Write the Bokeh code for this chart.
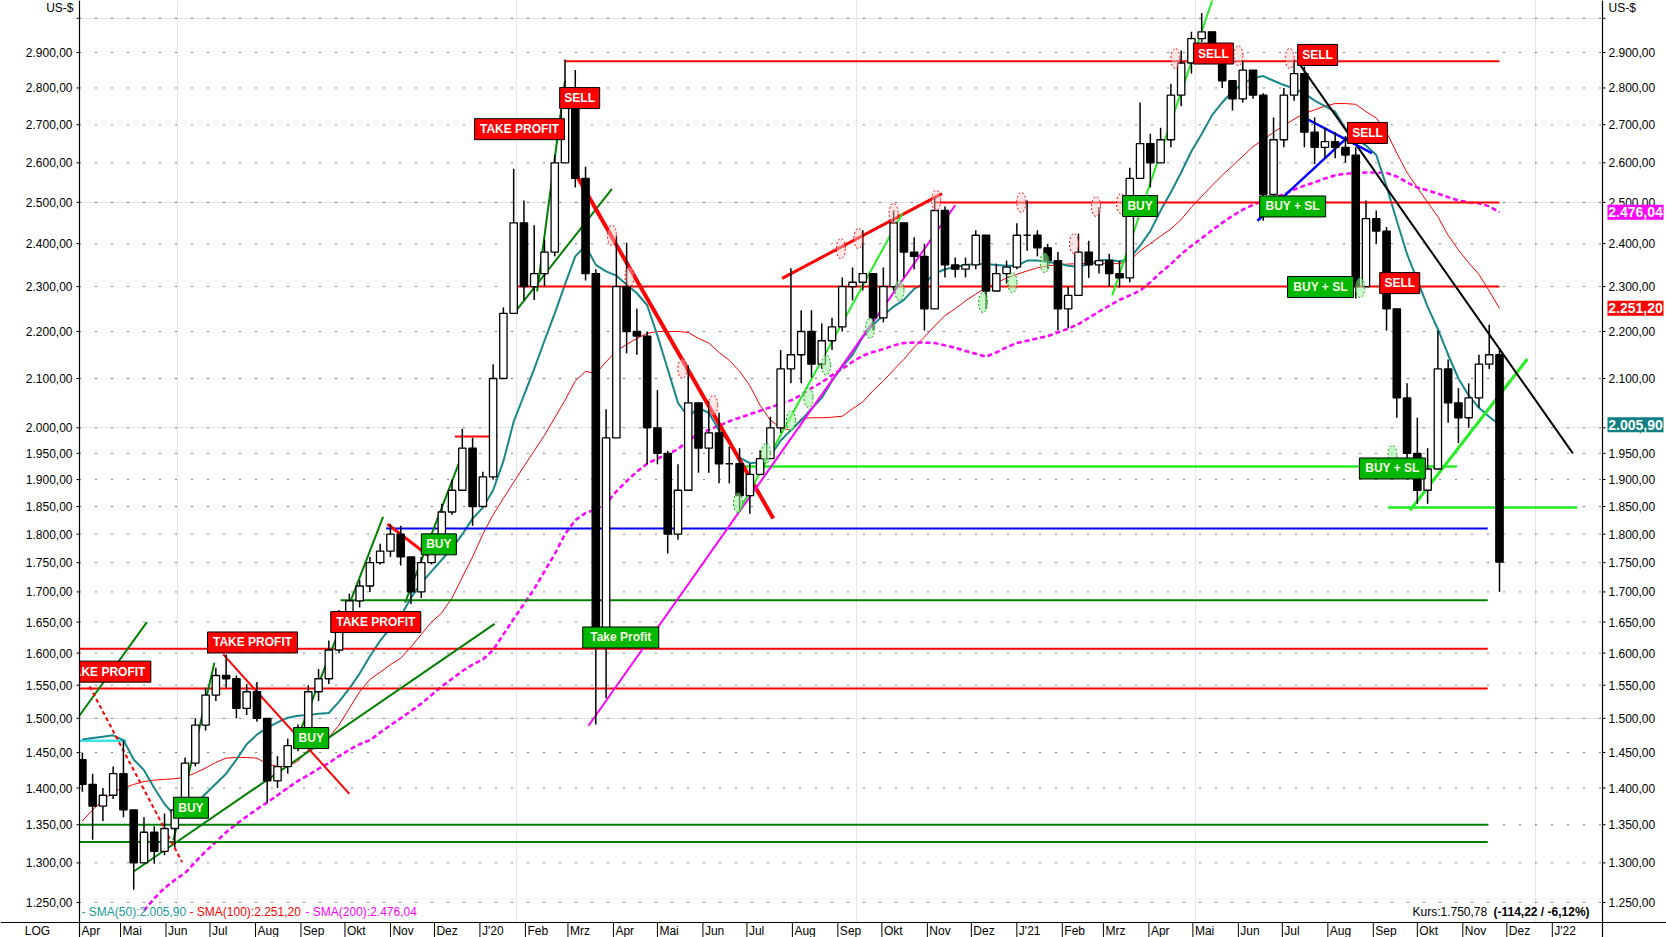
import math
import pandas as pd
from bokeh.plotting import figure
from bokeh.models import Range1d
from bokeh.core.properties import value
from bokeh.embed import file_html
from bokeh.resources import INLINE

# ---------------- data ----------------
first_week = "2019-04-05"          # weekly bars, Fridays
first_open = 1440
high = [1450,1420,1400,1430,1467,1370,1360,1348,1365,1380,
        1443,1500,1546,1577,1598,1565,1552,1555,1500,1445,
        1470,1491,1550,1575,1620,1670,1697,1720,1760,1783,
        1818,1815,1760,1760,1800,1855,1900,1998,1980,1915,
        2130,2253,2585,2505,2444,2410,2620,2880,2850,2590,
        2340,2037,2419,2402,2250,2200,2076,1955,1929,2127,
        2014,2053,2030,1963,1960,1930,1956,2022,2160,2342,
        2247,2247,2218,2230,2321,2344,2432,2330,2344,2480,
        2415,2415,2400,2512,2490,2367,2367,2432,2420,2353,
        2360,2449,2505,2432,2400,2380,2300,2424,2407,2488,
        2376,2360,2587,2760,2676,2692,2811,2906,2960,3016,
        2960,2910,2811,2877,2850,2785,2719,2800,2877,2860,
        2719,2692,2680,2670,2640,2505,2480,2440,2250,2090,
        2020,1960,2202,2140,2080,2090,2150,2215,2160]
low = [1395,1330,1355,1385,1360,1266,1310,1299,1310,1320,
       1365,1430,1482,1526,1546,1500,1505,1495,1380,1400,
       1420,1452,1465,1526,1552,1600,1650,1674,1700,1747,
       1760,1745,1680,1690,1747,1790,1835,1880,1815,1850,
       1900,2100,2240,2269,2270,2300,2370,2600,2537,2314,
       1491,1530,1980,2153,2150,1929,1929,1766,1790,1880,
       1913,1913,1893,1893,1843,1837,1908,1942,1990,2090,
       2090,2102,2120,2160,2200,2269,2291,2202,2220,2291,
       2321,2340,2202,2275,2321,2321,2321,2340,2250,2290,
       2307,2340,2383,2370,2340,2202,2207,2280,2320,2330,
       2300,2298,2310,2560,2537,2600,2640,2750,2840,2930,
       2890,2800,2738,2760,2770,2455,2510,2640,2765,2640,
       2597,2612,2612,2600,2273,2300,2400,2202,2020,1900,
       1855,1855,1920,2010,1970,2000,2040,2120,1700]
close = [1405,1375,1390,1420,1370,1300,1340,1315,1345,1370,
         1435,1490,1535,1565,1560,1515,1540,1500,1410,1430,
         1460,1470,1540,1560,1605,1660,1685,1710,1750,1770,
         1800,1760,1700,1750,1790,1840,1880,1960,1850,1905,
         2100,2240,2450,2300,2330,2380,2600,2790,2560,2330,
         1620,1980,2300,2200,2190,2000,1950,1800,1880,2050,
         1960,1990,1930,1930,1870,1910,1940,2000,2120,2150,
         2200,2130,2180,2210,2300,2310,2330,2230,2300,2450,
         2380,2370,2250,2480,2350,2340,2350,2420,2290,2330,
         2345,2420,2420,2390,2360,2250,2280,2380,2350,2360,
         2330,2320,2560,2650,2600,2660,2780,2870,2940,2960,
         2910,2820,2770,2850,2780,2520,2660,2780,2840,2680,
         2640,2655,2640,2620,2300,2460,2430,2250,2060,1950,
         1880,1920,2120,2050,2020,2060,2130,2150,1750.78]
sma50 = [1469,1471,1473,1475,1468,1440,1425,1400,1378,1362,
         1368,1378,1392,1406,1420,1440,1462,1476,1486,1494,
         1501,1504,1505,1507,1508,1525,1545,1568,1595,1620,
         1640,1660,1690,1715,1735,1755,1775,1800,1828,1848,
         1880,1935,2012,2065,2120,2180,2240,2305,2370,2395,
         2350,2335,2325,2305,2285,2258,2191,2120,2050,2022,
         2040,2030,1995,1972,1942,1931,1933,1945,1975,1995,
         2015,2038,2060,2095,2125,2150,2188,2215,2235,2255,
         2270,2295,2308,2330,2340,2345,2350,2352,2352,2350,
         2348,2348,2360,2360,2357,2354,2348,2345,2352,2360,
         2362,2358,2365,2395,2430,2480,2525,2575,2630,2675,
         2725,2760,2790,2812,2828,2833,2820,2808,2798,2785,
         2765,2750,2735,2690,2660,2645,2620,2540,2455,2375,
         2315,2255,2205,2150,2100,2065,2040,2022,2005.90]
sma100 = [1355,1370,1383,1395,1400,1405,1409,1411,1412,1413,
          1415,1421,1428,1436,1442,1443,1443,1442,1434,1430,
          1430,1438,1454,1463,1472,1490,1515,1540,1559,1570,
          1582,1592,1610,1630,1650,1665,1690,1725,1760,1800,
          1835,1865,1895,1925,1955,1985,2020,2055,2095,2115,
          2110,2135,2158,2172,2185,2196,2200,2200,2200,2198,
          2185,2175,2155,2138,2115,2085,2045,2015,2000,1995,
          2018,2020,2020,2021,2023,2038,2052,2075,2095,2118,
          2140,2166,2188,2212,2235,2250,2268,2283,2298,2308,
          2320,2328,2336,2343,2348,2350,2352,2353,2353,2353,
          2353,2353,2360,2383,2400,2418,2435,2458,2488,2515,
          2542,2568,2592,2617,2642,2660,2680,2697,2715,2730,
          2740,2750,2757,2757,2755,2735,2718,2680,2625,2575,
          2537,2500,2465,2420,2385,2355,2328,2290,2251.20]
sma200_first_week = 6
sma200 = [1240,1255,1268,1278,1287,1301,1315,1327,1340,1351,
          1361,1371,1380,1390,1400,1410,1418,1427,1435,1445,
          1454,1462,1468,1479,1490,1500,1511,1522,1535,1548,
          1560,1572,1582,1590,1605,1630,1655,1680,1705,1735,
          1765,1800,1825,1838,1845,1855,1878,1897,1915,1930,
          1940,1948,1958,1975,1988,1996,2004,2013,2020,2027,
          2034,2041,2048,2055,2066,2080,2092,2107,2120,2135,
          2148,2156,2162,2170,2175,2176,2176,2175,2170,2165,
          2158,2152,2146,2155,2166,2175,2180,2185,2190,2198,
          2206,2216,2230,2244,2257,2270,2280,2291,2310,2332,
          2352,2375,2395,2413,2432,2450,2467,2482,2494,2505,
          2512,2520,2532,2542,2550,2560,2568,2572,2574,2575,
          2575,2574,2565,2550,2537,2530,2522,2513,2505,2500,
          2498,2490,2476.04]
assert len(high) == len(low) == len(close) == len(sma50) == len(sma100) == 139
assert len(sma200) == 139 - sma200_first_week

# horizontal support / resistance levels
red_lvl_price = [2875, 2500, 2300, 1983, 1607, 1545]
red_lvl_from = ["2020-02-28", "2020-11-06", "2020-01-23", "2019-12-15", "2019-03-20", "2019-03-20"]
red_lvl_to = ["2021-11-26", "2021-11-26", "2021-11-26", "2020-01-13", "2021-11-18", "2021-11-18"]
dkg_lvl_price = [1686, 1350, 1327]
dkg_lvl_from = ["2019-09-28", "2019-03-20", "2019-03-20"]
dkg_lvl_to = ["2021-11-18", "2021-11-18", "2021-11-18"]
blue_lvl_price = [1810]
blue_lvl_from = ["2019-10-29"]
blue_lvl_to = ["2021-11-18"]
lime_lvl_price = [1925, 1848]
lime_lvl_from = ["2020-06-28", "2021-09-11"]
lime_lvl_to = ["2021-10-28", "2022-01-18"]
cyan_lvl_price = [1467]
cyan_lvl_from = ["2019-03-20"]
cyan_lvl_to = ["2019-05-05"]

# trend lines: (start date, start price, end date, end price)
dkg_trends = [("2019-03-30", 1492, "2019-05-19", 1650),
              ("2019-05-10", 1289, "2020-01-11", 1647),
              ("2019-06-06", 1329, "2019-07-04", 1585),
              ("2019-08-27", 1456, "2019-10-27", 1831),
              ("2019-11-11", 1682, "2019-12-20", 1948),
              ("2020-01-26", 2247, "2020-03-31", 2534),
              ("2020-02-09", 2289, "2020-02-28", 2820)]
red_trend_main = [("2020-03-07", 2567, "2020-07-19", 1828)]
red_trends = [("2019-10-30", 1818, "2019-11-27", 1762),
              ("2020-07-25", 2319, "2020-11-11", 2522)]
red_trend_thin = [("2019-07-10", 1598, "2019-10-04", 1392)]
red_trend_dashed = [("2019-04-10", 1548, "2019-06-12", 1301)]
magenta_trends = [("2020-03-15", 1489, "2020-11-20", 2493)]
lime_trends = [("2020-06-25", 1839, "2020-10-15", 2473),
               ("2021-03-07", 2280, "2021-05-19", 3117)]
lime_trend_last = [("2021-09-26", 1843, "2021-12-15", 2141)]
black_trends = [("2021-07-12", 2871, "2022-01-15", 1950)]
blue_trends = [("2021-07-15", 2721, "2021-08-31", 2625),
               ("2021-06-14", 2455, "2021-08-14", 2665)]

# signal boxes
red_box_text = ["TAKE PROFIT", "TAKE PROFIT", "TAKE PROFIT", "TAKE PROFIT",
                "SELL", "SELL", "SELL", "SELL", "SELL"]
red_box_date = ["2019-04-21", "2019-07-30", "2019-10-22", "2020-01-28",
                "2020-03-09", "2021-05-15", "2021-07-25", "2021-08-28", "2021-09-19"]
red_box_price = [1571, 1617, 1650, 2688, 2772, 2897, 2893, 2678, 2308]
green_box_text = ["BUY", "BUY", "BUY", "Take Profit", "BUY", "BUY + SL", "BUY + SL", "BUY + SL"]
green_box_date = ["2019-06-18", "2019-09-08", "2019-12-04", "2020-04-06",
                  "2021-03-26", "2021-07-08", "2021-07-27", "2021-09-14"]
green_box_price = [1373, 1471, 1782, 1625, 2491, 2490, 2299, 1921]

# marked turning points
red_mark_date = ["2020-03-31", "2020-04-12", "2020-05-18", "2020-06-08", "2020-09-03",
                 "2020-09-15", "2020-10-09", "2020-11-07", "2021-01-04", "2021-02-09",
                 "2021-02-24", "2021-03-13", "2021-04-19", "2021-06-01", "2021-07-06"]
red_mark_price = [2420, 2323, 2121, 2045, 2388, 2412, 2473, 2505, 2500, 2400,
                  2490, 2497, 2883, 2891, 2883]
green_mark_date = ["2020-06-25", "2020-07-14", "2020-07-31", "2020-08-12", "2020-08-24",
                   "2020-09-23", "2020-10-13", "2020-12-09", "2020-12-29", "2021-01-20",
                   "2021-08-23", "2021-09-14"]
green_mark_price = [1857, 1950, 2014, 2061, 2128, 2207, 2291, 2264, 2309, 2355, 2298, 1946]

y_ticks = [1250, 1300, 1350, 1400, 1450, 1500, 1550, 1600, 1650, 1700, 1750, 1800,
           1850, 1900, 1950, 2000, 2100, 2200, 2300, 2400, 2500, 2600, 2700, 2800, 2900, 3000]
month_names = {1: "Jan", 2: "Feb", 3: "Mrz", 4: "Apr", 5: "Mai", 6: "Jun", 7: "Jul",
               8: "Aug", 9: "Sep", 10: "Okt", 11: "Nov", 12: "Dez"}
first_month, last_month = "2019-04-01", "2022-01-01"
last_sma50, last_sma100, last_sma200 = 2005.90, 2251.20, 2476.04
last_price, last_change, last_pct = 1750.78, -114.22, -6.12

# ---------------- layout helpers (page pixels -> data) ----------------
DAY = 86400000.0
W, H = 1666, 937
PXD = 1.467                 # pixels per calendar day
X_ANCHOR_PX = 76            # page x of 2019-04-01
Y_ANCHOR_PX, Y_ANCHOR_P, PX_PER_LN = 52, 2900.0, 1010.0
FL, FR, FB = 79, 1602, 922  # frame edges (left, right, bottom) in page pixels


def ms(s):
    return pd.Timestamp(s).value / 1e6


X_ANCHOR = ms("2019-04-01")


def xp(px):
    return X_ANCHOR + (px - X_ANCHOR_PX) / PXD * DAY


def yp(py):
    return Y_ANCHOR_P * math.exp((Y_ANCHOR_PX - py) / PX_PER_LN)


def de(v, nd=2):
    s = f"{v:,.{nd}f}"
    return s.replace(",", "X").replace(".", ",").replace("X", ".")


FONT = value("Liberation Sans")

p = figure(width=W, height=H, output_backend="svg", toolbar_location=None,
           x_axis_location=None, y_axis_location=None, y_axis_type="log",
           x_range=Range1d(xp(0), xp(W)), y_range=Range1d(yp(H), yp(0)),
           min_border_left=0, min_border_right=0, min_border_top=0, min_border_bottom=0,
           title=None)
p.outline_line_color = None
p.background_fill_color = "white"
p.border_fill_color = "white"

# dotted grid rows
n = len(y_ticks)
p.segment([xp(FL)] * n, y_ticks, [xp(FR)] * n, y_ticks, color="black",
          line_width=1, line_dash="1 15")

# moving averages
wk = pd.date_range(first_week, periods=len(close), freq="7D")
wx = [t.value / 1e6 for t in wk]
p.segment([ms(d) for d in cyan_lvl_from], cyan_lvl_price, [ms(d) for d in cyan_lvl_to],
          cyan_lvl_price, color="#3fe3ea", line_width=2.5)
p.line(wx, sma100, color="#ff0000", line_width=1)
p.line(wx[sma200_first_week:], sma200, color="#ff00ff", line_width=2.5, line_dash="5 3")
p.line(wx, sma50, color="#17878c", line_width=2)


def hl(frm, to, lv, color, w):
    p.segment([ms(d) for d in frm], lv, [ms(d) for d in to], lv, color=color, line_width=w)


def tl(segs, color, w, dash="solid"):
    p.segment([ms(s[0]) for s in segs], [s[1] for s in segs],
              [ms(s[2]) for s in segs], [s[3] for s in segs],
              color=color, line_width=w, line_dash=dash)


hl(red_lvl_from, red_lvl_to, red_lvl_price, "#ff0000", 2)
hl(dkg_lvl_from, dkg_lvl_to, dkg_lvl_price, "#008000", 2)
hl(blue_lvl_from, blue_lvl_to, blue_lvl_price, "#0000ff", 2)
hl(lime_lvl_from, lime_lvl_to, lime_lvl_price, "#22ee22", 2.5)

tl(dkg_trends, "#008000", 2)
tl(red_trend_thin, "#ff0000", 2)
tl(red_trends, "#ff0000", 3)
tl(red_trend_main, "#ff0000", 4)
tl(red_trend_dashed, "#ff0000", 2, "4 3")
tl(magenta_trends, "#ff00ff", 2)
tl(lime_trends, "#22ee22", 2)
tl(lime_trend_last, "#22ee22", 3)
tl(black_trends, "#000000", 2)
tl(blue_trends, "#0000ff", 2.5)

# weekly price bars
opens = [first_open] + close[:-1]
hi = [max(h, o, c) for h, o, c in zip(high, opens, close)]
lo = [min(l, o, c) for l, o, c in zip(low, opens, close)]
p.segment(wx, lo, wx, hi, color="black", line_width=1.5)
upx = [x for x, o, c in zip(wx, opens, close) if c >= o]
upb = [o for o, c in zip(opens, close) if c >= o]
upt = [c for o, c in zip(opens, close) if c >= o]
dnx = [x for x, o, c in zip(wx, opens, close) if c < o]
dnb = [c for o, c in zip(opens, close) if c < o]
dnt = [o for o, c in zip(opens, close) if c < o]
p.vbar(x=upx, bottom=upb, top=upt, width=5.0 * DAY, fill_color="white", line_color="black", line_width=1.3)
p.vbar(x=dnx, bottom=dnb, top=dnt, width=5.0 * DAY, fill_color="black", line_color="black", line_width=1.3)

# turning point marks
p.ellipse([ms(d) for d in red_mark_date], red_mark_price, width=9, height=20,
          width_units="screen", height_units="screen",
          fill_color="#ffc8c8", fill_alpha=0.45, line_color="#ff0000", line_dash="2 2", line_width=1)
p.ellipse([ms(d) for d in green_mark_date], green_mark_price, width=9, height=20,
          width_units="screen", height_units="screen",
          fill_color="#9cf59c", fill_alpha=0.55, line_color="#00a000", line_dash="2 2", line_width=1)

# signal boxes
box_w = {"TAKE PROFIT": 90, "SELL": 40, "BUY": 35, "BUY + SL": 66, "Take Profit": 76}
p.rect([ms(d) for d in red_box_date], red_box_price, width=[box_w[t] for t in red_box_text],
       height=21, width_units="screen", height_units="screen",
       fill_color="#ff0000", line_color="black", line_width=1)
p.text([ms(d) for d in red_box_date], red_box_price, text=red_box_text,
       text_align="center", text_baseline="middle", text_color="white",
       text_font=FONT, text_font_size="12px", text_font_style="bold")
p.rect([ms(d) for d in green_box_date], green_box_price, width=[box_w[t] for t in green_box_text],
       height=21, width_units="screen", height_units="screen",
       fill_color="#00b800", line_color="black", line_width=1)
p.text([ms(d) for d in green_box_date], green_box_price, text=green_box_text,
       text_align="center", text_baseline="middle", text_color="#fbffe8",
       text_font=FONT, text_font_size="12px", text_font_style="bold")

# legend line and quote (inside plot area, bottom)
leg_y = yp(911)
p.text([xp(81)], [leg_y], text=[f"- SMA(50):{de(last_sma50)}"], text_color="#1a9a9a",
       text_font=FONT, text_font_size="12px", text_baseline="middle", text_align="left")
p.text([xp(189)], [leg_y], text=[f"- SMA(100):{de(last_sma100)}"], text_color="#ff0000",
       text_font=FONT, text_font_size="12px", text_baseline="middle", text_align="left")
p.text([xp(305)], [leg_y], text=[f"- SMA(200):{de(last_sma200)}"], text_color="#ff00ff",
       text_font=FONT, text_font_size="12px", text_baseline="middle", text_align="left")
p.text([xp(1412)], [leg_y], text=[f"Kurs:{de(last_price)}"], text_color="black",
       text_font=FONT, text_font_size="12px", text_baseline="middle", text_align="left")
p.text([xp(1493)], [leg_y], text=[f"({de(last_change)} / {de(last_pct)}%)"], text_color="black",
       text_font=FONT, text_font_size="12px", text_font_style="bold",
       text_baseline="middle", text_align="left")

# ---------------- axes drawn by hand ----------------
# white margins (clip anything running outside the plot area)
p.quad(left=[xp(-5)], right=[xp(FL)], top=[yp(-5)], bottom=[yp(H + 5)], fill_color="white", line_color=None)
p.quad(left=[xp(FR)], right=[xp(W + 5)], top=[yp(-5)], bottom=[yp(H + 5)], fill_color="white", line_color=None)
p.quad(left=[xp(FL)], right=[xp(FR)], top=[yp(FB)], bottom=[yp(H + 5)], fill_color="white", line_color=None)

# axis lines
p.segment([xp(FL), xp(FR), xp(0)], [yp(0), yp(0), yp(FB)],
          [xp(FL), xp(FR), xp(W)], [yp(H), yp(H), yp(FB)], color="black", line_width=1.2)
# y tick marks
p.segment([xp(FL - 3)] * n, y_ticks, [xp(FL)] * n, y_ticks, color="black", line_width=1)
p.segment([xp(FR)] * n, y_ticks, [xp(FR + 3)] * n, y_ticks, color="black", line_width=1)
# y tick labels
lab = [de(t) for t in y_ticks if t != 3000]
labv = [t for t in y_ticks if t != 3000]
p.text([xp(72)] * len(labv), labv, text=lab, text_align="right", text_baseline="middle",
       text_color="black", text_font=FONT, text_font_size="12px")
p.text([xp(1608)] * len(labv), labv, text=lab, text_align="left", text_baseline="middle",
       text_color="black", text_font=FONT, text_font_size="12px")
p.text([xp(73), xp(1608)], [yp(7), yp(7)], text=["US-$", "US-$"], text_align=["right", "left"],
       text_baseline="middle", text_color="black", text_font=FONT, text_font_size="12px")

# month separators and labels
months = pd.date_range(first_month, last_month, freq="MS")
m_x = [ms(m) for m in months]
m_lab = [f"J'{m.year % 100:02d}" if m.month == 1 else month_names[m.month] for m in months]
sep_x = [x for x in m_x if x > xp(FL)]
p.segment(sep_x, [yp(FB)] * len(sep_x), sep_x, [yp(H)] * len(sep_x), color="black", line_width=1)
lab_x = [max(x, xp(FL)) + 2 / PXD * DAY for x in m_x]
p.text(lab_x, [yp(930)] * len(lab_x), text=m_lab, text_align="left", text_baseline="middle",
       text_color="black", text_font=FONT, text_font_size="12px")
p.text([xp(37)], [yp(930)], text=["LOG"], text_align="center", text_baseline="middle",
       text_color="black", text_font=FONT, text_font_size="12px")

# value flags on the right axis
flag_v = [last_sma200, last_sma100, last_sma50]
flag_c = ["#ff00ff", "#ff0000", "#0f7f84"]
p.rect([xp(1635)] * 3, flag_v, width=56, height=15, width_units="screen", height_units="screen",
       fill_color=flag_c, line_color=None)
p.text([xp(1635)] * 3, flag_v, text=[de(v) for v in flag_v], text_align="center",
       text_baseline="middle", text_color="white", text_font=FONT, text_font_size="14px",
       text_font_style="bold")

open("out.html", "w").write(file_html(p, INLINE))
